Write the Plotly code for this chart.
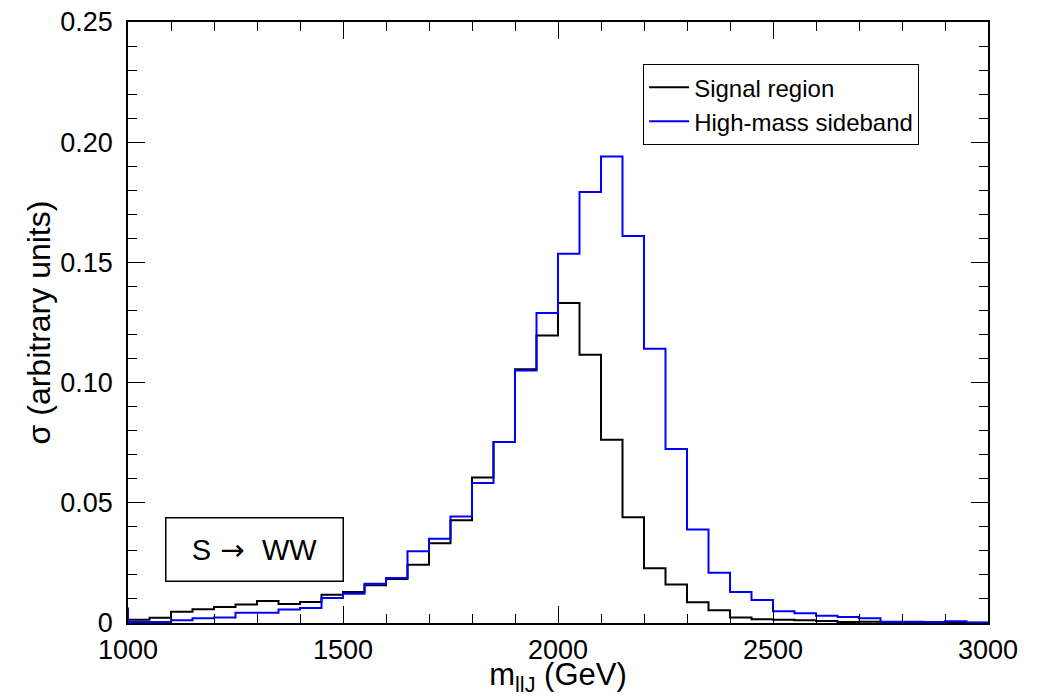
import plotly.graph_objects as go

# bin lower edges (GeV), 50 GeV bins from 1000 to 3000
bin_lo = list(range(1000, 3000, 50))
bin_width = 50

signal_region = [
    0.0014, 0.0022, 0.0047, 0.0057, 0.0067, 0.0077, 0.0092, 0.0079, 0.0087, 0.0118,
    0.0129, 0.0157, 0.0183, 0.0242, 0.0332, 0.0427, 0.0605, 0.0753, 0.1056, 0.1196,
    0.1331, 0.1116, 0.0762, 0.0440, 0.0228, 0.0160, 0.0086, 0.0053, 0.0023, 0.0016,
    0.0014, 0.0011, 0.0008, 0.0004, 0.0005, 0.0002, 0.0002, 0.0002, 0.0001, 0.0001,
]

high_mass_sideband = [
    0.0004, 0.0004, 0.0011, 0.0020, 0.0023, 0.0043, 0.0043, 0.0056, 0.0062, 0.0104,
    0.0122, 0.0163, 0.0187, 0.0298, 0.0350, 0.0443, 0.0582, 0.0753, 0.1050, 0.1289,
    0.1536, 0.1793, 0.1940, 0.1610, 0.1141, 0.0724, 0.0389, 0.0209, 0.0129, 0.0096,
    0.0049, 0.0041, 0.0030, 0.0025, 0.0020, 0.0005, 0.0005, 0.0004, 0.0007, 0.0002,
]
# bin just below the plotted range (visible only as the edge at 1000 GeV)
sideband_underflow_lo = 950
sideband_underflow = 0.006

x_tickvals = [1000, 1500, 2000, 2500, 3000]
x_ticktext = ["1000", "1500", "2000", "2500", "3000"]
y_tickvals = [0, 0.05, 0.10, 0.15, 0.20, 0.25]
y_ticktext = ["0", "0.05", "0.10", "0.15", "0.20", "0.25"]

FONT = "Liberation Sans, Arial, Helvetica, sans-serif"


def step_xy(lo, vals, width):
    xs = list(lo) + [lo[-1] + width]
    ys = list(vals) + [vals[-1]]
    return xs, ys


sx, sy = step_xy(bin_lo, signal_region, bin_width)
bx, by = step_xy([sideband_underflow_lo] + bin_lo, [sideband_underflow] + high_mass_sideband, bin_width)

fig = go.Figure()
fig.add_trace(go.Scatter(x=sx, y=sy, mode="lines", line=dict(color="black", width=2, shape="hv"),
                         name="Signal region"))
fig.add_trace(go.Scatter(x=bx, y=by, mode="lines", line=dict(color="#0000ff", width=2, shape="hv"),
                         name="High-mass sideband"))

axis_common = dict(
    showgrid=False, zeroline=False, showline=True, linecolor="black", linewidth=1.5,
    mirror="ticks", ticks="inside", tickcolor="black", tickwidth=1.2, ticklen=17,
    tickfont=dict(family=FONT, size=27, color="black"), automargin=False,
    ticklabeloverflow="allow",
)

fig.update_xaxes(
    range=[1000, 3000], tickvals=x_tickvals, ticktext=x_ticktext,
    minor=dict(ticks="inside", ticklen=9, dtick=100, tickcolor="black", tickwidth=1.2),
    ticklabelstandoff=2,
    title=dict(text="m<sub>llJ</sub> (GeV)", font=dict(family=FONT, size=31, color="black"), standoff=0),
    **axis_common,
)
fig.update_yaxes(
    range=[0, 0.25], tickvals=y_tickvals, ticktext=y_ticktext,
    minor=dict(ticks="inside", ticklen=9, dtick=0.01, tickcolor="black", tickwidth=1.2),
    ticklabelstandoff=8,
    title=dict(text="σ (arbitrary units)", font=dict(family=FONT, size=32, color="black"), standoff=0),
    **axis_common,
)

fig.add_annotation(
    x=0.147, y=0.123, xref="paper", yref="paper", xanchor="center", yanchor="middle",
    text="S<span style=\"font-family:DejaVu Sans\"> → </span> WW", showarrow=False,
    font=dict(family=FONT, size=29, color="black"),
    bordercolor="black", borderwidth=1.5, borderpad=2, width=172, height=58, bgcolor="white",
)

# page body has an 8px default margin, so the figure is sized/offset to compensate
fig.update_layout(
    width=1031, height=689,
    margin=dict(l=120, r=51, t=14, b=74),
    paper_bgcolor="white", plot_bgcolor="white",
    showlegend=True,
    legend=dict(
        x=0.599, y=0.93, xanchor="left", yanchor="top",
        bordercolor="black", borderwidth=1, bgcolor="white",
        font=dict(family=FONT, size=24, color="black"),
        itemwidth=40, tracegroupgap=0,
    ),
)

fig.write_html("out.html")
